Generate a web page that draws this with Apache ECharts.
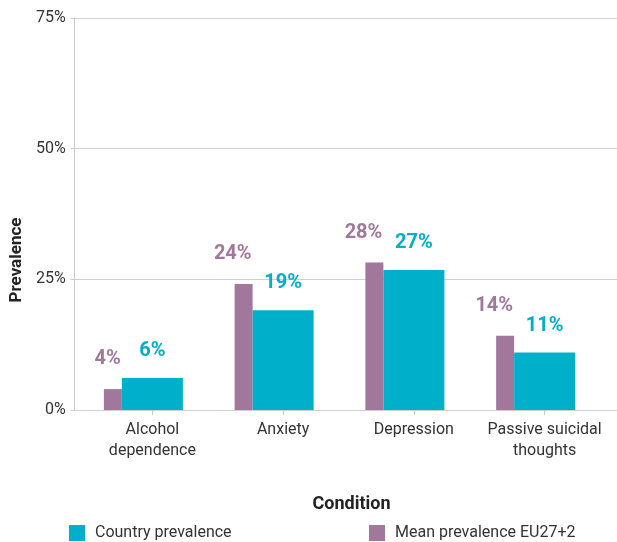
<!DOCTYPE html>
<html>
<head>
<meta charset="utf-8">
<script src="https://cdn.jsdelivr.net/npm/echarts@6/dist/echarts.min.js"></script>
<style>
html,body{margin:0;padding:0;background:#fff;}
#chart{width:617px;height:542px;}
</style>
</head>
<body>
<div id="chart"></div>
<script>
var categories = ['Alcohol\ndependence', 'Anxiety', 'Depression', 'Passive suicidal\nthoughts'];
var countryValues = [6.1, 19.1, 26.8, 11.0];
var meanValues = [4.0, 24.1, 28.2, 14.2];
var yTicks = [0, 25, 50, 75];

var TEAL = '#00b0cb';
var PURPLE = '#a1789b';
var FONT = 'Roboto';

var chart = echarts.init(document.getElementById('chart'), null, {renderer: 'canvas'});
var pct = function (p) { return Math.round(p.value) + '%'; };

chart.setOption({
  animation: false,
  textStyle: {fontFamily: FONT},
  grid: [
    {left: 74, right: 0, top: 18, height: 392},
    {left: 87, right: 7, top: 18, height: 392}
  ],
  legend: [
    {
      data: ['Country prevalence'], left: 69, top: 525, padding: 0,
      itemWidth: 16, itemHeight: 16, icon: 'rect',
      textStyle: {fontFamily: FONT, fontSize: 16, color: '#333', padding: [0, 0, 0, 5]}
    },
    {
      data: ['Mean prevalence EU27+2'], left: 369, top: 525, padding: 0,
      itemWidth: 16, itemHeight: 16, icon: 'rect',
      textStyle: {fontFamily: FONT, fontSize: 16, color: '#333', padding: [0, 0, 0, 5]}
    }
  ],
  xAxis: [
    {gridIndex: 0, type: 'category', data: categories, show: false},
    {
      gridIndex: 1, type: 'category', data: categories,
      axisLine: {show: false},
      axisTick: {show: true, alignWithLabel: true, length: 5, lineStyle: {color: '#c8c8c8'}},
      axisLabel: {interval: 0, fontFamily: FONT, fontSize: 16, color: '#333', margin: 9, lineHeight: 21},
      name: 'Condition', nameLocation: 'middle', nameGap: 85,
      nameTextStyle: {fontFamily: FONT, fontSize: 18, fontWeight: 'bold', color: '#222', padding: [0, 0, 0, 6]}
    }
  ],
  yAxis: [
    {
      gridIndex: 0, type: 'value', min: yTicks[0], max: yTicks[yTicks.length - 1], interval: 25,
      axisLine: {show: true, lineStyle: {color: '#c8c8c8'}},
      axisTick: {show: true, length: 4, lineStyle: {color: '#c8c8c8'}},
      axisLabel: {formatter: '{value}%', fontFamily: FONT, fontSize: 16, color: '#333', margin: 9},
      splitLine: {show: true, lineStyle: {color: '#d0d0d0'}},
      name: 'Prevalence', nameLocation: 'middle', nameGap: 49,
      nameTextStyle: {fontFamily: FONT, fontSize: 17, fontWeight: 'bold', color: '#222', padding: [0, 92, 0, 0]}
    },
    {gridIndex: 1, type: 'value', min: 0, max: 75, show: false}
  ],
  series: [
    {
      name: 'Mean prevalence EU27+2', type: 'bar', xAxisIndex: 1, yAxisIndex: 1,
      data: meanValues, barWidth: 18, barGap: '0%',
      itemStyle: {color: PURPLE},
      label: {
        show: true, position: 'top', distance: 20, formatter: pct, align: 'right', offset: [8, 0],
        fontFamily: FONT, fontSize: 20, fontWeight: 'bold', color: PURPLE
      }
    },
    {
      name: 'Country prevalence', type: 'bar', xAxisIndex: 1, yAxisIndex: 1,
      data: countryValues, barWidth: 61, barGap: '0%',
      itemStyle: {color: TEAL},
      label: {
        show: true, position: 'top', distance: 17, formatter: pct,
        fontFamily: FONT, fontSize: 20, fontWeight: 'bold', color: TEAL
      }
    },
    {
      name: 'spacer', type: 'bar', xAxisIndex: 1, yAxisIndex: 1,
      data: [], barWidth: 18, barGap: '0%', silent: true
    }
  ]
});
</script>
</body>
</html>
